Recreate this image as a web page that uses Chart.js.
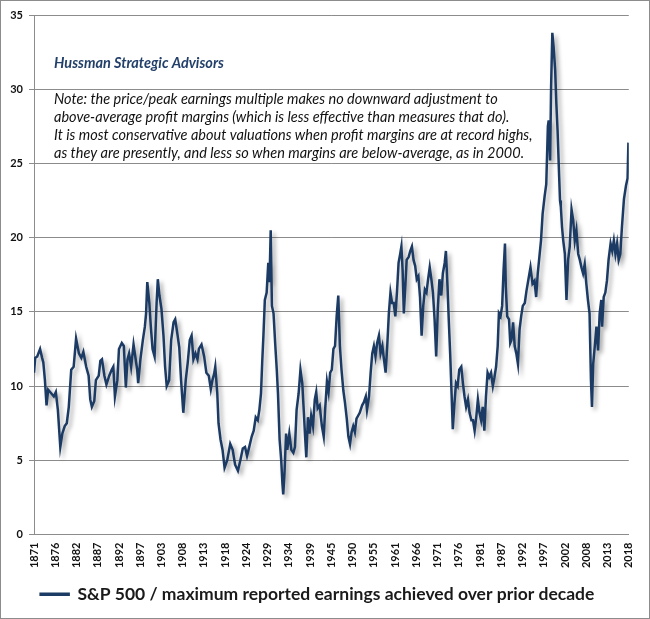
<!DOCTYPE html>
<html>
<head>
<meta charset="utf-8">
<script src="https://cdn.jsdelivr.net/npm/chart.js@4.4.1/dist/chart.umd.min.js"></script>
<style>
  html, body { margin: 0; padding: 0; background: #fff; }
  #wrap { width: 650px; height: 619px; position: relative; }
</style>
</head>
<body>
<div id="wrap"><canvas id="pe" width="650" height="619"></canvas></div>
<script>
// price / peak earnings (year, ratio)
const years = [
  1871.0, 1871.3, 1871.8, 1872.5, 1873.0, 1873.3, 1873.7, 1874.1, 1874.5, 1875.3, 1875.9, 1876.4, 1876.9,
  1877.5, 1878.0, 1878.6, 1879.1, 1879.6, 1880.2, 1880.8, 1881.4, 1882.1, 1882.7, 1883.2, 1883.9, 1884.5,
  1884.9, 1885.3, 1885.9, 1886.3, 1887.0, 1887.4, 1887.8, 1888.4, 1888.9, 1889.6, 1890.2, 1890.6, 1891.0,
  1891.6, 1892.0, 1892.7, 1893.2, 1893.7, 1894.1, 1894.5, 1895.0, 1895.6, 1896.5, 1896.75, 1897.3, 1897.9,
  1898.4, 1898.7, 1899.0, 1899.5, 1899.85, 1900.3, 1900.8, 1901.3, 1901.6, 1902.0, 1902.5, 1903.0, 1903.4,
  1903.8, 1904.4, 1904.9, 1905.5, 1905.9, 1906.5, 1906.9, 1907.35, 1907.9, 1908.5, 1909.0, 1909.5, 1909.95,
  1910.4, 1910.9, 1911.4, 1911.75, 1912.4, 1913.05, 1913.6, 1914.2, 1914.7, 1915.1, 1915.5, 1915.8, 1916.3,
  1916.6, 1917.1, 1917.6, 1918.1, 1918.75, 1919.5, 1920.1, 1920.7, 1921.4, 1922.0, 1922.6, 1923.15, 1923.65,
  1924.2, 1924.8, 1925.3, 1925.8, 1926.3, 1926.7, 1927.1, 1927.4, 1927.7, 1928.05, 1928.5, 1928.9, 1929.2,
  1929.5, 1929.8, 1930.2, 1930.6, 1931.0, 1931.3, 1931.7, 1932.1, 1932.4, 1932.6, 1932.9, 1933.3, 1933.6,
  1934.1, 1934.6, 1935.1, 1935.5, 1935.9, 1936.4, 1936.85, 1937.3, 1937.7, 1938.0, 1938.3, 1938.7, 1939.1,
  1939.5, 1939.95, 1940.4, 1940.75, 1941.1, 1941.6, 1942.15, 1942.6, 1942.95, 1943.4, 1943.8, 1944.2, 1944.6,
  1945.0, 1945.4, 1945.8, 1946.2, 1946.6, 1947.0, 1947.45, 1947.85, 1948.3, 1948.7, 1949.1, 1949.5, 1949.9,
  1950.3, 1950.7, 1951.1, 1951.5, 1952.1, 1952.5, 1953.0, 1953.3, 1953.8, 1954.2, 1954.6, 1955.0, 1955.4,
  1955.8, 1956.25, 1956.65, 1957.1, 1957.4, 1957.9, 1958.3, 1958.7, 1959.1, 1959.5, 1959.9, 1960.3, 1960.7,
  1961.1, 1961.5, 1961.8, 1962.1, 1962.4, 1962.8, 1963.1, 1963.6, 1964.0, 1964.4, 1964.8, 1965.2, 1965.6,
  1966.0, 1966.4, 1966.8, 1967.2, 1967.6, 1968.0, 1968.4, 1968.8, 1969.2, 1969.6, 1970.0, 1970.4, 1970.8,
  1971.2, 1971.65, 1972.05, 1972.5, 1972.8, 1973.2, 1973.5, 1973.85, 1974.2, 1974.5, 1974.9, 1975.3, 1975.7,
  1976.1, 1976.6, 1977.0, 1977.4, 1977.8, 1978.25, 1978.65, 1979.1, 1979.5, 1979.9, 1980.3, 1980.7, 1981.1,
  1981.5, 1981.9, 1982.3, 1982.7, 1983.1, 1983.5, 1983.95, 1984.4, 1984.8, 1985.2, 1985.6, 1985.9, 1986.3,
  1986.7, 1987.05, 1987.4, 1987.6, 1987.95, 1988.4, 1988.7, 1989.0, 1989.4, 1989.8, 1990.2, 1990.6, 1991.0,
  1991.4, 1991.8, 1992.3, 1992.7, 1993.2, 1993.7, 1994.2, 1994.7, 1995.1, 1995.5, 1995.9, 1996.3, 1996.7,
  1997.2, 1997.6, 1998.0, 1998.2, 1998.55, 1998.8, 1999.1, 1999.4, 1999.8, 2000.1, 2000.4, 2000.7, 2001.0,
  2001.2, 2001.5, 2001.8, 2002.2, 2002.6, 2003.0, 2003.4, 2003.85, 2004.25, 2004.65, 2005.05, 2005.5, 2005.9,
  2006.3, 2006.7, 2007.1, 2007.5, 2007.9, 2008.3, 2008.65, 2008.9, 2009.2, 2009.6, 2010.0, 2010.4, 2010.8,
  2011.2, 2011.4, 2011.8, 2012.2, 2012.6, 2013.0, 2013.5, 2013.9, 2014.3, 2014.7, 2015.1, 2015.5, 2015.9,
  2016.3, 2016.8, 2017.3, 2017.7, 2017.9
];
const ratio = [
  10.9, 11.9, 12.0, 12.5, 11.9, 11.6, 10.4, 8.7, 9.75, 9.5, 9.3, 9.6, 8.4,
  5.9, 6.8, 7.3, 7.5, 8.6, 11.1, 11.3, 13.2, 12.2, 11.9, 12.3, 11.3, 10.7,
  9.1, 8.6, 9.0, 10.4, 10.7, 11.7, 11.8, 10.7, 10.1, 10.7, 11.1, 11.3, 9.3,
  10.4, 12.5, 12.9, 12.7, 9.9, 11.8, 12.2, 11.3, 12.8, 11.1, 10.2, 11.8, 13.1,
  14.0, 14.9, 17.0, 15.6, 14.1, 12.5, 12.0, 15.6, 17.2, 16.1, 15.2, 13.4, 11.3,
  10.0, 10.4, 13.1, 14.3, 14.5, 13.4, 12.6, 10.4, 8.2, 10.4, 11.6, 13.1, 13.4,
  11.8, 12.2, 11.8, 12.5, 12.8, 12.0, 10.9, 10.7, 9.8, 10.4, 10.8, 11.3, 9.5,
  7.5, 6.4, 5.7, 4.5, 5.0, 6.1, 5.7, 4.7, 4.3, 5.0, 5.8, 5.9, 5.3,
  5.9, 6.6, 7.0, 7.9, 7.7, 8.4, 9.5, 11.6, 13.4, 15.8, 16.3, 18.3, 17.0,
  20.5, 15.4, 14.9, 12.9, 11.1, 9.5, 6.4, 5.0, 3.4, 2.7, 4.1, 6.8, 5.7,
  6.8, 5.7, 5.5, 5.9, 8.4, 9.5, 11.1, 10.2, 8.2, 6.6, 5.2, 7.9, 6.8,
  8.0, 7.3, 9.1, 9.6, 8.5, 8.7, 7.3, 6.6, 8.4, 10.3, 9.6, 10.9, 11.1,
  12.5, 12.7, 14.7, 16.1, 12.7, 11.1, 9.7, 8.9, 7.8, 6.6, 6.1, 6.9, 7.3,
  6.9, 7.8, 8.0, 8.2, 8.7, 8.9, 9.3, 8.4, 9.3, 10.9, 12.2, 12.7, 12.0,
  12.9, 13.4, 12.2, 12.7, 12.0, 10.9, 12.7, 14.9, 16.3, 15.6, 15.6, 14.7, 16.3,
  18.3, 18.9, 19.4, 17.8, 14.9, 16.9, 18.5, 18.7, 19.1, 19.4, 18.5, 18.1, 17.2,
  17.4, 16.0, 13.4, 15.4, 16.5, 16.3, 17.2, 18.0, 17.2, 16.3, 14.5, 12.0, 15.2,
  17.2, 16.1, 17.6, 18.3, 19.1, 16.7, 14.5, 12.2, 9.5, 7.1, 8.8, 10.2, 10.0,
  11.1, 11.3, 10.2, 9.3, 8.6, 9.1, 8.2, 7.7, 7.7, 7.0, 7.9, 9.1, 8.2,
  7.7, 8.6, 7.0, 9.3, 10.9, 10.6, 10.9, 10.0, 10.6, 11.3, 12.7, 14.9, 14.7,
  15.4, 17.8, 19.6, 16.7, 14.7, 14.5, 12.9, 13.1, 14.3, 12.7, 12.2, 11.5, 13.8,
  14.7, 15.4, 15.6, 16.4, 17.2, 18.0, 16.9, 17.1, 16.0, 17.6, 18.7, 19.8, 21.6,
  22.8, 23.6, 27.5, 27.9, 25.2, 30.2, 33.8, 32.9, 31.3, 29.0, 27.2, 24.8, 22.5,
  22.1, 20.7, 19.8, 18.9, 15.8, 18.5, 19.4, 21.9, 21.2, 19.8, 20.5, 18.9, 18.5,
  18.0, 17.6, 18.2, 16.9, 15.8, 14.9, 10.4, 8.6, 11.5, 12.7, 14.0, 12.4, 14.9,
  15.8, 14.0, 16.0, 16.3, 17.1, 18.5, 19.6, 19.1, 19.8, 18.9, 19.6, 18.5, 18.9,
  20.7, 22.6, 23.5, 24.0, 26.4
];

const xTickLabels = ['1871', '1876', '1882', '1887', '1892', '1897', '1903', '1908', '1913', '1918',
  '1924', '1929', '1934', '1939', '1945', '1950', '1955', '1961', '1966', '1971', '1976', '1981',
  '1987', '1992', '1997', '2002', '2008', '2013', '2018'];

const seriesName = 'S&P 500 / maximum reported earnings achieved over prior decade';
const firm = 'Hussman Strategic Advisors';
const noteLines = [
  'Note: the price/peak earnings multiple makes no downward adjustment to',
  'above-average profit margins (which is less effective than measures that do).',
  'It is most conservative about valuations when profit margins are at record highs,',
  'as they are presently, and less so when margins are below-average, as in 2000.'
];

const NAVY = '#1b3a64';
const GRID = '#8c8c8c';
const FONT = 'Lato, "Open Sans", sans-serif';

// drop shadow under the line, like the Excel original
const lineShadow = {
  id: 'lineShadow',
  beforeDatasetsDraw(chart) {
    const c = chart.ctx;
    c.save();
    c.shadowColor = 'rgba(0,0,0,0.35)';
    c.shadowBlur = 4;
    c.shadowOffsetX = 3;
    c.shadowOffsetY = 3;
  },
  afterDatasetsDraw(chart) { chart.ctx.restore(); }
};

const notes = {
  id: 'notes',
  afterDraw(chart) {
    const c = chart.ctx;
    c.save();
    c.textBaseline = 'middle';
    c.textAlign = 'left';
    c.fillStyle = '#22406a';
    c.font = 'italic bold 14.5px ' + FONT;
    c.fillText(firm, 54, 63);
    c.fillStyle = '#111';
    c.font = 'italic 14.5px ' + FONT;
    noteLines.forEach((t, i) => c.fillText(t, 54, 99 + i * 18));
    // outer frame
    c.strokeStyle = GRID;
    c.lineWidth = 1;
    c.strokeRect(0.5, 0.5, chart.width - 1, chart.height - 1);
    c.restore();
  }
};

const ctx = document.getElementById('pe').getContext('2d');
new Chart(ctx, {
  type: 'line',
  data: {
    datasets: [{
      label: seriesName,
      data: years.map((y, i) => ({ x: y, y: ratio[i] })),
      borderColor: NAVY,
      backgroundColor: NAVY,
      borderWidth: 2.5,
      pointRadius: 0,
      tension: 0,
      fill: false
    }]
  },
  options: {
    responsive: false,
    animation: false,
    devicePixelRatio: 1,
    layout: { padding: { left: 0, right: 15, top: 15, bottom: 6 } },
    plugins: {
      tooltip: { enabled: false },
      legend: {
        position: 'bottom',
        labels: {
          boxWidth: 28,
          boxHeight: 1,
          padding: 6,
          color: '#1a1a1a',
          font: { family: FONT, size: 17.5, weight: 'bold' }
        }
      }
    },
    scales: {
      x: {
        type: 'linear',
        min: 1871,
        max: 2018,
        afterBuildTicks(scale) {
          const step = (2018 - 1871) / (xTickLabels.length - 1);
          scale.ticks = xTickLabels.map((l, i) => ({ value: 1871 + i * step }));
        },
        afterFit(scale) { scale.height = 45; },
        grid: { display: false, drawTicks: false },
        border: { display: true, color: GRID },
        ticks: {
          autoSkip: false,
          minRotation: 90,
          maxRotation: 90,
          padding: 8,
          color: '#111',
          font: { family: FONT, size: 11, weight: 'bold' },
          callback: (v, i) => xTickLabels[i]
        }
      },
      y: {
        min: 0,
        max: 35,
        afterFit(scale) { scale.width = 34; },
        grid: { color: GRID, tickLength: 5 },
        border: { color: GRID },
        ticks: {
          stepSize: 5,
          padding: 6,
          color: '#111',
          font: { family: FONT, size: 11, weight: 'bold' }
        }
      }
    }
  },
  plugins: [lineShadow, notes]
});
</script>
</body>
</html>
